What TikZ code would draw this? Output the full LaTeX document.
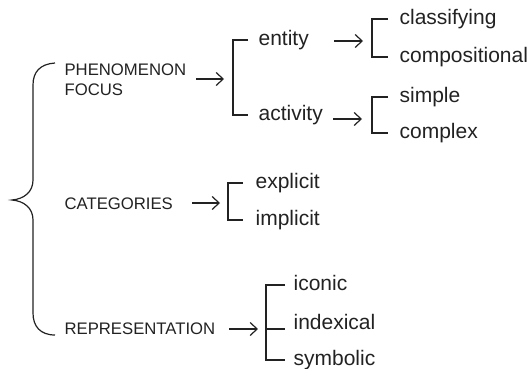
\documentclass[tikz,border=0pt]{standalone}
\usepackage{fontspec}
\setmainfont{Liberation Sans}
\usetikzlibrary{arrows.meta}
\definecolor{ink}{HTML}{222222}
\tikzset{
    item/.style={anchor=west,inner sep=0pt,text height=15.5pt,text depth=5pt,
        font=\fontsize{21}{25}\selectfont},
    head/.style={anchor=west,inner sep=0pt,align=left,
        font=\fontsize{16.7}{20}\selectfont},
    >={Straight Barb[length=7pt,width=13pt]},
}
\begin{document}
\begin{tikzpicture}[x=1pt,y=1pt,line width=1.2pt,color=ink]
    \useasboundingbox (0,0) rectangle (530,-369);

    \node[head] (phen) at (64,-80) {PHENOMENON\\FOCUS};
    \node[head] (cat) at (64,-204) {CATEGORIES};
    \node[head] (rep) at (64,-329) {REPRESENTATION};

    \node[item] (entity) at (258,-40) {entity};
    \node[item] (activity) at (258,-115) {activity};
    \node[item] (classif) at (399,-19) {classifying};
    \node[item] (compos) at (399,-57) {compositional};
    \node[item] (simple) at (399,-97) {simple};
    \node[item] (complex) at (399,-133) {complex};
    \node[item] (explicit) at (255,-183) {explicit};
    \node[item] (implicit) at (255,-220) {implicit};
    \node[item] (iconic) at (293,-285) {iconic};
    \node[item] (indexical) at (293,-324) {indexical};
    \node[item] (symbolic) at (293,-360) {symbolic};

    % brace round the three headings
    \draw (55,-63) .. controls (40,-64) and (33,-72) .. (33,-85) -- (33,-180)
        .. controls (33,-192) and (24,-199) .. (12,-200)
        .. controls (24,-201) and (33,-208) .. (33,-220) -- (33,-313)
        .. controls (33,-326) and (40,-335) .. (55,-335);

    % brackets
    \coordinate (b1) at (233,-79);
    \coordinate (b2) at (372,-41);
    \coordinate (b3) at (372,-119);
    \coordinate (b4) at (228,-203);
    \coordinate (b5) at (266,-329);

    \draw ([xshift=-10pt]entity.west) -| (b1) |- ([xshift=-10pt]activity.west);
    \draw ([xshift=-11pt]classif.west) -| (b2) |- ([xshift=-11pt]compos.west);
    \draw ([xshift=-11pt]simple.west) -| (b3) |- ([xshift=-11pt]complex.west);
    \draw ([xshift=-12pt]explicit.west) -| (b4) |- ([xshift=-12pt]implicit.west);
    \draw ([xshift=-8pt]iconic.west) -| (b5) |- ([xshift=-8pt]symbolic.west);
    \draw (b5) -- ([xshift=-8pt]indexical.west |- b5);

    \draw[->] ([xshift=-37pt]b1) -- ([xshift=-9pt]b1);
    \draw[->] ([xshift=-38pt]b2) -- ([xshift=-9pt]b2);
    \draw[->] ([xshift=-39pt]b3) -- ([xshift=-10pt]b3);
    \draw[->] ([xshift=-36pt]b4) -- ([xshift=-8pt]b4);
    \draw[->] ([xshift=-37pt]b5) -- ([xshift=-8pt]b5);
\end{tikzpicture}
\end{document}
